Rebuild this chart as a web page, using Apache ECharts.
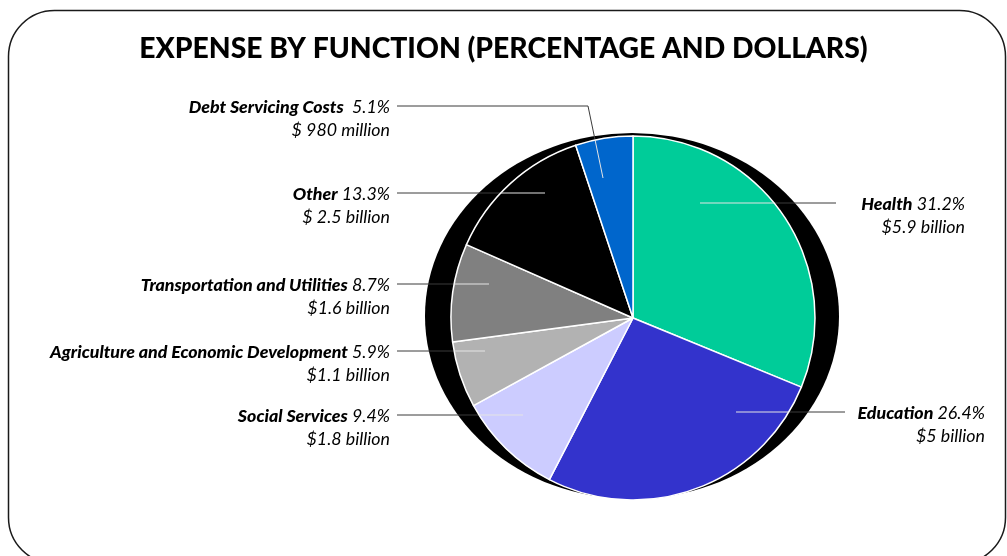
<!DOCTYPE html>
<html>
<head>
<meta charset="utf-8">
<script src="https://cdn.jsdelivr.net/npm/echarts@6/dist/echarts.min.js"></script>
<style>
  html, body { margin: 0; padding: 0; background: #ffffff; }
  #chart { width: 1007px; height: 556px; }
</style>
</head>
<body>
<div id="chart"></div>
<script>
// Expense shares by function, clockwise from 12 o'clock
const categories = [
  'Health',
  'Education',
  'Social Services',
  'Agriculture and Economic Development',
  'Transportation and Utilities',
  'Other',
  'Debt Servicing Costs'
];
const percentages = [31.2, 26.4, 9.4, 5.9, 8.7, 13.3, 5.1];
const dollarLabels = [
  '$5.9 billion',
  '$5 billion',
  '$1.8 billion',
  '$1.1 billion',
  '$1.6 billion',
  '$ 2.5 billion',
  '$ 980 million'
];
const nameGaps = [' ', ' ', ' ', ' ', ' ', ' ', '  '];
const sliceColors = ['#00cc99', '#3333cc', '#ccccff', '#b2b2b2', '#808080', '#000000', '#0066cc'];

// Pie geometry (pixels) and callout layout
const PIE_CENTER = [633, 318];
const PIE_RADIUS = 182;
const FONT = 'Lato, "Open Sans", "DejaVu Sans", sans-serif';
const LABEL_SIZE = 17.8;
const LINE_H = 23;

// For each slice: inner anchor of the leader, optional elbow, outer end, label edge x
const leaders = [
  { anchor: [700, 203], end: [836, 203], textX: 965 },
  { anchor: [736, 412], end: [845, 412], textX: 985 },
  { anchor: [523, 415], end: [397, 415], textX: 390 },
  { anchor: [485, 351], end: [397, 351], textX: 390 },
  { anchor: [489, 284], end: [397, 284], textX: 390 },
  { anchor: [545, 193], end: [397, 193], textX: 390 },
  { anchor: [603, 178], elbow: [588, 106], end: [397, 106], textX: 390 }
];

// Where the segment a -> b leaves the pie's outer circle
function rimPoint(a, b) {
  const dx = b[0] - a[0], dy = b[1] - a[1];
  const fx = a[0] - PIE_CENTER[0], fy = a[1] - PIE_CENTER[1];
  const A = dx * dx + dy * dy;
  const B = 2 * (fx * dx + fy * dy);
  const C = fx * fx + fy * fy - PIE_RADIUS * PIE_RADIUS;
  const disc = Math.max(0, B * B - 4 * A * C);
  const t = (-B + Math.sqrt(disc)) / (2 * A);
  return [a[0] + t * dx, a[1] + t * dy];
}

const pieData = categories.map((name, i) => ({
  name: name,
  value: percentages[i],
  itemStyle: { color: sliceColors[i] }
}));

const chart = echarts.init(document.getElementById('chart'), null, { renderer: 'canvas' });

chart.setOption({
  animation: false,
  backgroundColor: '#ffffff',
  title: {
    text: 'EXPENSE BY FUNCTION (PERCENTAGE AND DOLLARS)',
    left: 'center',
    top: 30,
    textStyle: {
      fontFamily: FONT,
      fontSize: 28.3,
      fontWeight: 900,
      color: '#000000'
    }
  },
  graphic: [
    {
      type: 'rect',
      z: -10,
      shape: { x: 8.5, y: 10.5, width: 997, height: 553, r: 46 },
      style: { fill: 'none', stroke: '#1a1a1a', lineWidth: 1.5 }
    },
    {
      // dark rim behind the pie
      type: 'circle',
      z: -5,
      x: 632,
      y: 316,
      scaleX: 207 / 183,
      shape: { cx: 0, cy: 0, r: 183 },
      style: { fill: '#000000' }
    }
  ],
  series: [
    {
      type: 'pie',
      center: PIE_CENTER,
      radius: PIE_RADIUS,
      startAngle: 90,
      clockwise: true,
      silent: true,
      avoidLabelOverlap: false,
      data: pieData,
      itemStyle: { borderColor: '#ffffff', borderWidth: 1.5 },
      label: {
        show: true,
        position: 'outside',
        formatter: (p) =>
          '{n|' + p.name + '}{p|' + nameGaps[p.dataIndex] + percentages[p.dataIndex] + '%}\n{d|' +
          dollarLabels[p.dataIndex] + '}',
        rich: {
          n: { fontFamily: FONT, fontSize: LABEL_SIZE, fontWeight: 900, fontStyle: 'italic', color: '#000', lineHeight: LINE_H },
          p: { fontFamily: FONT, fontSize: LABEL_SIZE, fontStyle: 'italic', color: '#000', lineHeight: LINE_H },
          d: { fontFamily: FONT, fontSize: LABEL_SIZE, fontStyle: 'italic', color: '#000', lineHeight: LINE_H }
        }
      },
      labelLine: { show: true, lineStyle: { color: '#3a3a3a', width: 1 } },
      labelLayout: (params) => {
        const L = leaders[params.dataIndex];
        const next = L.elbow || L.end;
        const rim = rimPoint(L.anchor, next);
        const pts = L.elbow ? [rim, L.elbow, L.end] : [rim, rim, L.end];
        return {
          x: L.textX,
          y: L.end[1] - 10,
          align: 'right',
          verticalAlign: 'top',
          labelLinePoints: pts
        };
      }
    },
    {
      // light inner part of each leader, drawn over the slices
      type: 'pie',
      z: 3,
      center: PIE_CENTER,
      radius: PIE_RADIUS,
      startAngle: 90,
      clockwise: true,
      silent: true,
      avoidLabelOverlap: false,
      data: pieData.map((d) => ({ name: d.name, value: d.value })),
      itemStyle: { color: 'rgba(0,0,0,0)', borderWidth: 0 },
      label: { show: true, position: 'outside', formatter: '.', fontSize: 10, color: 'rgba(0,0,0,0)' },
      labelLine: { show: true, lineStyle: { color: '#e4e4e4', width: 1 } },
      labelLayout: (params) => {
        const L = leaders[params.dataIndex];
        const next = L.elbow || L.end;
        const rim = rimPoint(L.anchor, next);
        return {
          x: rim[0],
          y: rim[1],
          labelLinePoints: [L.anchor, rim, rim]
        };
      }
    }
  ]
});
</script>
</body>
</html>
